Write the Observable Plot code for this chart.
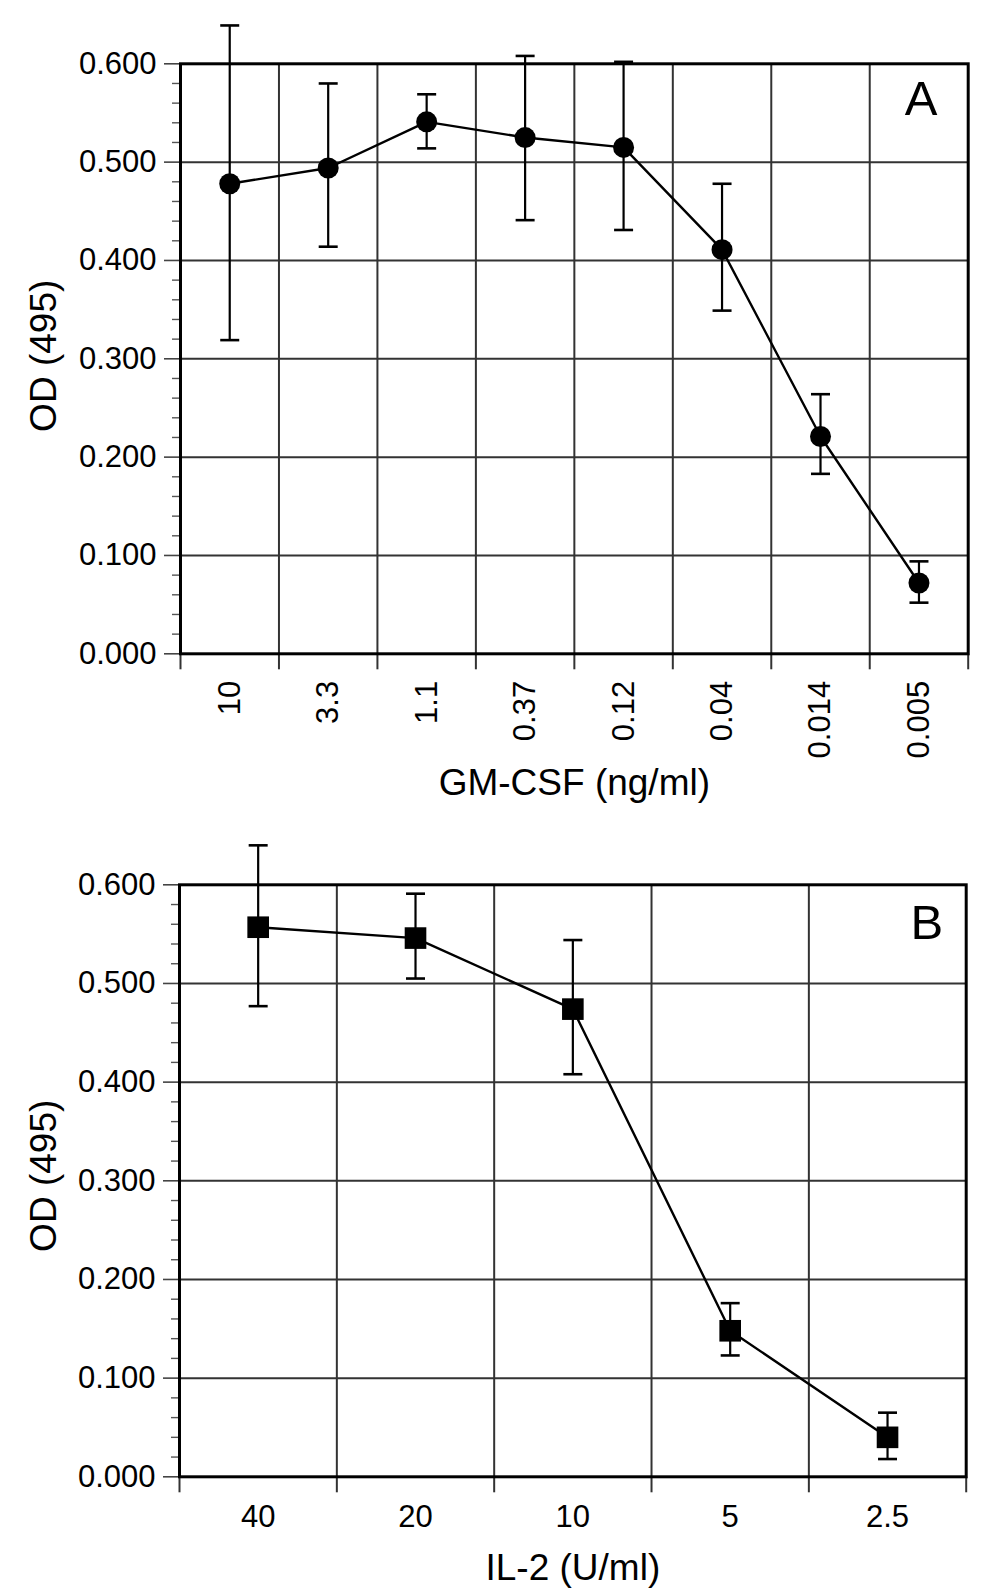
<!DOCTYPE html>
<html>
<head>
<meta charset="utf-8">
<script src="https://cdn.jsdelivr.net/npm/d3@7"></script>
<script src="https://cdn.jsdelivr.net/npm/@observablehq/plot@0.6"></script>
<style>
  html, body { margin: 0; padding: 0; background: #fff; }
  #chart svg { display: block; }
</style>
</head>
<body>
<div id="chart"></div>
<script>
// ---- Data ----
const gmLabels = ["10", "3.3", "1.1", "0.37", "0.12", "0.04", "0.014", "0.005"];
const gmMean   = [0.478, 0.494, 0.541, 0.525, 0.515, 0.411, 0.221, 0.072];
const gmHi     = [0.639, 0.580, 0.569, 0.608, 0.602, 0.478, 0.264, 0.094];
const gmLo     = [0.319, 0.414, 0.514, 0.441, 0.431, 0.349, 0.183, 0.052];

const il2Labels = ["40", "20", "10", "5", "2.5"];
const il2Mean   = [0.557, 0.546, 0.474, 0.148, 0.040];
const il2Hi     = [0.640, 0.591, 0.544, 0.176, 0.065];
const il2Lo     = [0.477, 0.505, 0.408, 0.123, 0.018];

const yMajor = [0, 0.1, 0.2, 0.3, 0.4, 0.5, 0.6];
const yMinor = d3.range(0, 31).map(i => i * 0.02).filter((v, i) => i % 5 !== 0);

const FONT = "'Liberation Sans', Arial, Helvetica, sans-serif";

// horizontal error-bar cap symbol
const capSymbol = {
  draw(ctx, size) {
    const w = Math.sqrt(size / Math.PI);
    ctx.moveTo(-w, 0);
    ctx.lineTo(w, 0);
  }
};

function panel(cfg) {
  const n = cfg.labels.length;
  const rows = cfg.labels.map((label, i) => ({
    i: i + 0.5, label, mean: cfg.mean[i], hi: cfg.hi[i], lo: cfg.lo[i]
  }));
  const centers = rows.map(d => d.i);
  const edges = d3.range(0, n + 1);

  const xLabelAxis = cfg.rotate
    ? Plot.axisX(centers, {
        label: null, tickSize: 0, tickPadding: cfg.labelPad, tickRotate: -90,
        textAnchor: "end", lineAnchor: "middle",
        tickFormat: v => cfg.labels[Math.round(v - 0.5)], fontSize: 31, fill: "#000"
      })
    : Plot.axisX(centers, {
        label: null, tickSize: 0, tickPadding: cfg.labelPad,
        tickFormat: v => cfg.labels[Math.round(v - 0.5)], fontSize: 31, fill: "#000"
      });

  return Plot.plot({
    width: 1000,
    height: cfg.height,
    marginTop: cfg.mt,
    marginBottom: cfg.mb,
    marginLeft: cfg.ml,
    marginRight: cfg.mr,
    style: { fontFamily: FONT, background: "#fff", color: "#000", overflow: "visible" },
    x: { domain: [0, n], axis: null, label: null },
    y: { domain: [0, 0.6], axis: null, label: null },
    marks: [
      Plot.gridY(yMajor.slice(1, -1), { stroke: "#333", strokeOpacity: 1, strokeWidth: 2 }),
      Plot.gridX(edges.slice(1, -1), { stroke: "#333", strokeOpacity: 1, strokeWidth: 2 }),
      Plot.axisY(yMajor, { label: null, tickSize: 16, tickPadding: 8, tickFormat: ".3f", fontSize: 31, stroke: "#444", strokeWidth: 1.6, fill: "#000" }),
      Plot.axisY(yMinor, { label: null, tickSize: 8, tickFormat: () => "", stroke: "#555", strokeWidth: 1.4 }),
      Plot.axisX(edges, { label: null, tickSize: 16, tickFormat: () => "", stroke: "#333", strokeWidth: 2 }),
      xLabelAxis,
      Plot.frame({ stroke: "#000", strokeWidth: 3 }),
      // error bars
      Plot.ruleX(rows, { x: "i", y1: "lo", y2: "hi", stroke: "#000", strokeWidth: 2.2 }),
      Plot.dot(rows, { x: "i", y: "hi", symbol: capSymbol, r: 9.5, stroke: "#000", strokeWidth: 2.6, fill: "none" }),
      Plot.dot(rows, { x: "i", y: "lo", symbol: capSymbol, r: 9.5, stroke: "#000", strokeWidth: 2.6, fill: "none" }),
      // connecting line
      Plot.line(rows, { x: "i", y: "mean", stroke: "#000", strokeWidth: 2.4 }),
      // markers
      Plot.dot(rows, { x: "i", y: "mean", symbol: cfg.symbol, r: cfg.r, fill: "#000", stroke: "none" }),
      // titles
      Plot.text([cfg.xTitle], { frameAnchor: "bottom", dy: cfg.xTitleDy, lineAnchor: "middle", fontSize: 37, fill: "#000" }),
      Plot.text(["OD (495)"], { frameAnchor: "left", dx: cfg.yTitleDx, dy: cfg.yTitleDyOff, rotate: -90, lineAnchor: "middle", textAnchor: "middle", fontSize: 37, fill: "#000" }),
      Plot.text([cfg.tag], { frameAnchor: "top-right", dx: cfg.tagDx, dy: cfg.tagDy, lineAnchor: "top", textAnchor: "end", fontSize: 49, fill: "#000" })
    ]
  });
}

const chart = document.getElementById("chart");

chart.append(panel({
  labels: gmLabels, mean: gmMean, hi: gmHi, lo: gmLo,
  height: 800, mt: 63.3, mb: 146.7, ml: 180, mr: 32.3,
  rotate: true, labelPad: 27,
  symbol: "circle", r: 10.5,
  xTitle: "GM-CSF (ng/ml)", xTitleDy: 129.7,
  yTitleDx: -136.6, yTitleDyOff: -3,
  tag: "A", tagDx: -30.7, tagDy: 16.7
}));

chart.append(panel({
  labels: il2Labels, mean: il2Mean, hi: il2Hi, lo: il2Lo,
  height: 795, mt: 84.3, mb: 118.7, ml: 179, mr: 34.3,
  rotate: false, labelPad: 28,
  symbol: "square", r: 12.2,
  xTitle: "IL-2 (U/ml)", xTitleDy: 91.7,
  yTitleDx: -135.6, yTitleDyOff: -5,
  tag: "B", tagDx: -23, tagDy: 19.7
}));
</script>
</body>
</html>
